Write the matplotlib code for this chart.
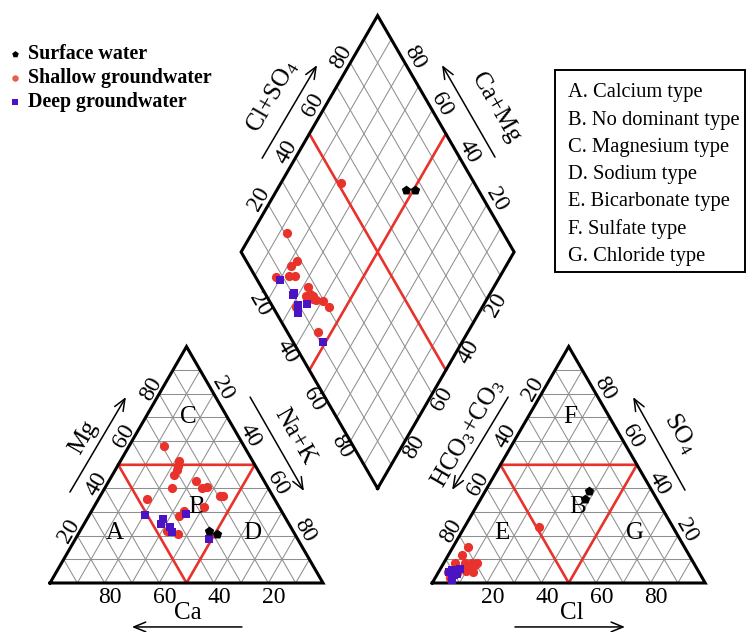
import numpy as np
import matplotlib.pyplot as plt
from matplotlib.patches import Rectangle

plt.rcParams['font.family'] = ['Liberation Serif', 'DejaVu Serif']
plt.rcParams['mathtext.fontset'] = 'custom'
plt.rcParams['mathtext.rm'] = 'Liberation Serif'
plt.rcParams['mathtext.it'] = 'Liberation Serif:italic'

# milliequivalent percentages per sample
# cations: Mg, Na+K (Ca is the rest); anions: SO4, Cl (HCO3+CO3 is the rest)
shallow_mg = [58.0, 35.5, 51.7, 49.5, 47.8, 45.7, 40.1, 22.1, 43.3, 28.3, 30.6, 40.3, 20.7, 40.7, 32.3, 36.9, 36.9]
shallow_nak = [12.8, 17.9, 21.4, 22.0, 22.5, 22.6, 24.8, 31.7, 31.9, 33.1, 33.9, 35.6, 36.4, 37.3, 40.3, 43.8, 45.0]
shallow_so4 = [15.1, 2.0, 6.2, 23.8, 8.3, 8.3, 6.2, 4.8, 4.8, 5.0, 8.3, 12.0, 7.6, 7.6, 7.6, 8.3, 4.1]
shallow_cl = [5.6, 5.5, 9.3, 27.2, 4.2, 10.3, 8.3, 3.5, 12.5, 9.7, 8.0, 5.0, 9.0, 9.6, 12.0, 12.2, 6.9]

deep_mg = [28.8, 29.1, 27.1, 24.8, 23.6, 21.5, 18.6]
deep_nak = [20.4, 35.2, 28.0, 28.1, 32.2, 33.9, 48.9]
deep_so4 = [4.8, 6.0, 5.5, 5.5, 3.4, 1.3, 4.0]
deep_cl = [3.6, 7.0, 5.3, 4.5, 6.4, 6.7, 6.9]

surface_mg = [22.1, 20.7]
surface_nak = [47.3, 50.7]
surface_so4 = [35.5, 39.0]
surface_cl = [38.2, 37.9]

ticks = [20, 40, 60, 80]
zone_names = ['A. Calcium type', 'B. No dominant type', 'C. Magnesium type',
              'D. Sodium type', 'E. Bicarbonate type', 'F. Sulfate type',
              'G. Chloride type']

H = np.sqrt(3) / 2
GAP = 40
AN_X0 = 100 + GAP
RED = '#e8322b'
GRID = '#8f8f8f'
TICK_FS = 17
NAME_FS = 18


def tri_xy(top, right, x0=0.0):
    top = np.asarray(top, dtype=float)
    right = np.asarray(right, dtype=float)
    return x0 + right + top / 2, top * H


def diamond_xy(camg, clso4):
    camg = np.asarray(camg, dtype=float)
    clso4 = np.asarray(clso4, dtype=float)
    return 100 + GAP / 2 + (clso4 - camg) / 2, GAP * H + (clso4 + camg) * H


def seg(ax, p, q, **kw):
    ax.plot([p[0], q[0]], [p[1], q[1]], **kw)


def draw_triangle(ax, x0):
    for v in range(10, 100, 10):
        kw = dict(color=GRID, lw=0.75, zorder=1)
        seg(ax, tri_xy(v, 0, x0), tri_xy(v, 100 - v, x0), **kw)
        seg(ax, tri_xy(0, v, x0), tri_xy(100 - v, v, x0), **kw)
        seg(ax, tri_xy(0, 100 - v, x0), tri_xy(100 - v, 0, x0), **kw)
    x, y = tri_xy([50, 50, 0, 50], [0, 50, 50, 0], x0)
    ax.plot(x, y, color=RED, lw=1.9, zorder=2)
    x, y = tri_xy([0, 0, 100, 0], [0, 100, 0, 0], x0)
    ax.plot(x, y, color='black', lw=2.2, zorder=3, solid_joinstyle='miter')


def draw_diamond(ax):
    for v in range(10, 100, 10):
        kw = dict(color=GRID, lw=0.75, zorder=1)
        seg(ax, diamond_xy(v, 0), diamond_xy(v, 100), **kw)
        seg(ax, diamond_xy(0, v), diamond_xy(100, v), **kw)
    seg(ax, diamond_xy(50, 0), diamond_xy(50, 100), color=RED, lw=1.9, zorder=2)
    seg(ax, diamond_xy(0, 50), diamond_xy(100, 50), color=RED, lw=1.9, zorder=2)
    x, y = diamond_xy([0, 100, 100, 0, 0], [0, 0, 100, 100, 0])
    ax.plot(x, y, color='black', lw=2.2, zorder=3, solid_joinstyle='miter')


def label(ax, p, off, d, text, rot):
    ax.text(p[0] + off[0] * d, p[1] + off[1] * d, text, rotation=rot,
            ha='center', va='center', fontsize=TICK_FS, rotation_mode='anchor')


def arrow(ax, start, end):
    ax.annotate('', xy=end, xytext=start,
                arrowprops=dict(arrowstyle='->,head_length=0.85,head_width=0.35',
                                lw=1.1, color='black', shrinkA=0, shrinkB=0))


fig = plt.figure(figsize=(7.49, 6.32), dpi=100)
ax = fig.add_axes([0, 0, 1, 1])
ax.set_xlim(-18.32, 256.04)
ax.set_ylim(-17.95, 213.55)
ax.axis('off')

draw_triangle(ax, 0)
draw_triangle(ax, AN_X0)
draw_diamond(ax)

# tick labels
for v in ticks:
    ax.text(100 - v + 2, -5.3, str(v), ha='center', va='center', fontsize=TICK_FS)
    ax.text(AN_X0 + v + 2, -5.3, str(v), ha='center', va='center', fontsize=TICK_FS)
    label(ax, tri_xy(v, 0), (-H, 0.5), 3.5, str(v), 60)
    label(ax, tri_xy(100 - v, v), (H, 0.5), 3.8, str(v), -60)
    label(ax, tri_xy(100 - v, 0, AN_X0), (-H, 0.5), 3.5, str(v), 60)
    label(ax, tri_xy(v, 100 - v, AN_X0), (H, 0.5), 3.8, str(v), -60)
    label(ax, diamond_xy(100, v), (-H, 0.5), 4.0, str(v), 60)
    label(ax, diamond_xy(v, 100), (H, 0.5), 4.0, str(v), -60)
    label(ax, diamond_xy(100 - v, 0), (-H, -0.5), 3.8, str(v), -60)
    label(ax, diamond_xy(0, 100 - v), (H, -0.5), 4.0, str(v), 60)

# axis names and arrows
ax.text(50.5, -11.0, 'Ca', ha='center', va='center', fontsize=NAME_FS)
arrow(ax, (70.3, -16.1), (30.0, -16.1))
ax.text(12.4, 53.5, 'Mg', ha='center', va='center', fontsize=NAME_FS, rotation=60)
arrow(ax, (7.3, 33.3), (27.8, 68.1))
ax.text(89.5, 53.5, 'Na+K', ha='center', va='center', fontsize=NAME_FS, rotation=-60)
arrow(ax, (73.3, 68.1), (93.0, 33.7))

ax.text(191.2, -11.0, 'Cl', ha='center', va='center', fontsize=NAME_FS)
arrow(ax, (170.3, -16.1), (210.6, -16.1))
ax.text(153.1, 54.9, r'HCO$_3$+CO$_3$', ha='center', va='center', fontsize=NAME_FS, rotation=60)
arrow(ax, (167.8, 68.1), (147.3, 34.1))
ax.text(231.0, 55.0, r'SO$_4$', ha='center', va='center', fontsize=NAME_FS, rotation=-60)
arrow(ax, (232.6, 34.0), (213.6, 68.1))

ax.text(81.5, 178.4, r'Cl+SO$_4$', ha='center', va='center', fontsize=NAME_FS, rotation=60)
arrow(ax, (77.7, 155.6), (97.8, 189.7))
ax.text(163.2, 174.2, 'Ca+Mg', ha='center', va='center', fontsize=NAME_FS, rotation=-60)
arrow(ax, (163.0, 156.0), (143.6, 189.7))

# zone letters
for ch, (x, y) in zip('ABCD', [(23.8, 18.3), (53.8, 27.8), (50.5, 60.8), (74.0, 18.3)]):
    ax.text(x, y, ch, ha='center', va='center', fontsize=18)
for ch, (x, y) in zip('EFGB', [(165.6, 18.3), (190.5, 60.8), (214.3, 18.3), (193.4, 27.8)]):
    ax.text(x, y, ch, ha='center', va='center', fontsize=18)

# samples
groups = [
    ('Shallow groundwater', shallow_mg, shallow_nak, shallow_so4, shallow_cl, RED, 'o', 44),
    ('Deep groundwater', deep_mg, deep_nak, deep_so4, deep_cl, '#4a14c4', 's', 38),
    ('Surface water', surface_mg, surface_nak, surface_so4, surface_cl, 'black', 'p', 50),
]
handles = {}
for name, mg, nak, so4, cl, color, mk, s in groups:
    mg, nak, so4, cl = map(np.asarray, (mg, nak, so4, cl))
    camg = 100 - nak
    clso4 = so4 + cl
    for x, y in (tri_xy(mg, nak), tri_xy(so4, cl, AN_X0), diamond_xy(camg, clso4)):
        h = ax.scatter(x, y, s=s, c=color, marker=mk, linewidths=0, zorder=5)
    handles[name] = h

leg_order = ['Surface water', 'Shallow groundwater', 'Deep groundwater']
leg = ax.legend([handles[n] for n in leg_order], leg_order, loc='upper left',
                bbox_to_anchor=(0.002, 0.936), bbox_transform=fig.transFigure,
                frameon=False, handlelength=1.0, handletextpad=0.15,
                labelspacing=0.2, borderpad=0.2, borderaxespad=0,
                scatterpoints=1, markerscale=0.7,
                prop=dict(family='Liberation Serif', weight='bold', size=14.4))
leg.legend_handles[1].set_color('#e8604c')

# water type key
fig.add_artist(Rectangle((555 / 749, 1 - 272 / 632), 190 / 749, 202 / 632,
                         transform=fig.transFigure, fill=False, lw=1.4, color='black'))
for i, name in enumerate(zone_names):
    fig.text(568 / 749, 1 - (93 + 27.2 * i) / 632, name, ha='left', va='center', fontsize=14.8)

fig.savefig('out.png', dpi=100)
